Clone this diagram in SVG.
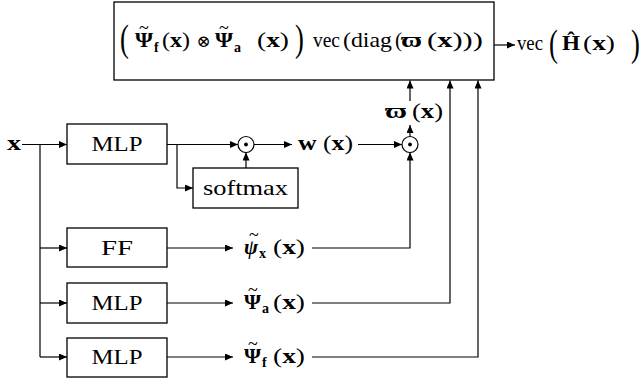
<svg xmlns="http://www.w3.org/2000/svg" width="644" height="384" viewBox="0 0 644 384">
<defs>
<marker id="ah" markerWidth="9" markerHeight="7" refX="8" refY="3.5" orient="auto" markerUnits="userSpaceOnUse">
<path d="M0,0 L8,3.5 L0,7 z" fill="#000"/>
</marker>
<style>
.t{font-family:"Liberation Serif","DejaVu Serif",serif;font-size:21px;fill:#000}
.b{font-weight:bold}
.bi{font-weight:bold;font-style:italic}
.tl{font-size:18px;font-weight:normal;font-style:normal}
.sub{font-family:"Liberation Serif","DejaVu Serif",serif;font-size:14px;font-weight:bold;fill:#000}
.big{font-family:"Liberation Serif","DejaVu Serif",serif;font-size:38px;fill:#000}
.op{font-family:"DejaVu Serif",serif;font-size:17px;fill:#000;text-anchor:middle}
.box{fill:#fff;stroke:#000;stroke-width:1.3}
.c{fill:none;stroke:#000;stroke-width:1.2}
.a{fill:none;stroke:#000;stroke-width:1.2;marker-end:url(#ah)}
.m{text-anchor:middle}
</style>
</defs>
<rect width="644" height="384" fill="#fff"/>

<g id="connectors">
<path class="a" d="M22,144.5 H67"/>
<path class="c" d="M40,144.5 V357"/>
<path class="a" d="M40,248 H67"/>
<path class="a" d="M40,303 H67"/>
<path class="a" d="M40,357 H67"/>
<path class="a" d="M167,144.5 H238"/>
<path class="a" d="M177,144.5 V188 H193"/>
<path class="a" d="M246,168 V152.5"/>
<path class="a" d="M254,144.5 H292"/>
<path class="a" d="M358,144.5 H402"/>
<path class="a" d="M410,136.5 V125"/>
<path class="a" d="M410,101 V80.5"/>
<path class="a" d="M167,248 H233"/>
<path class="a" d="M312,248 H410 V152.5"/>
<path class="a" d="M167,303 H233"/>
<path class="a" d="M312,303 H450 V80.5"/>
<path class="a" d="M167,357 H233"/>
<path class="a" d="M312,357 H478 V80.5"/>
<path class="a" d="M494,45 H515"/>
</g>

<g id="top-box">
<rect class="box" x="114" y="2" width="380" height="78"/>
<text class="big" transform="translate(120,51) scale(0.7,1)">(</text>
<text class="t b" x="135" y="47"><tspan textLength="18" lengthAdjust="spacingAndGlyphs">Ψ</tspan><tspan class="tl" x="139" y="34">~</tspan></text>
<text class="sub" x="154" y="52">f</text>
<text class="t" x="162" y="47" textLength="28" lengthAdjust="spacingAndGlyphs">(<tspan class="b">x</tspan>)</text>
<text class="op" x="203.5" y="47">⊗</text>
<text class="t b" x="215" y="47"><tspan textLength="18" lengthAdjust="spacingAndGlyphs">Ψ</tspan><tspan class="tl" x="219" y="34">~</tspan></text>
<text class="sub" x="234" y="52">a</text>
<text class="t" x="257" y="47" textLength="32" lengthAdjust="spacingAndGlyphs">(<tspan class="b">x</tspan>)</text>
<text class="big" transform="translate(295,51) scale(0.7,1)">)</text>
<text class="t" x="313" y="47" textLength="27" lengthAdjust="spacingAndGlyphs">vec</text>
<text class="t" x="343" y="47" textLength="49" lengthAdjust="spacingAndGlyphs">(diag</text>
<text class="t" x="395" y="47">(</text>
<text class="t b" x="401" y="47" textLength="21" lengthAdjust="spacingAndGlyphs">ϖ</text>
<text class="t" x="427" y="47" textLength="56" lengthAdjust="spacingAndGlyphs">(<tspan class="b">x</tspan>)))</text>
</g>

<g id="output">
<text class="t" x="517" y="50" textLength="26" lengthAdjust="spacingAndGlyphs">vec</text>
<text class="big" transform="translate(549,56) scale(0.7,1)">(</text>
<text class="t b" x="562" y="50" textLength="18" lengthAdjust="spacingAndGlyphs">Ĥ</text>
<text class="t" x="583" y="50" textLength="32" lengthAdjust="spacingAndGlyphs">(<tspan class="b">x</tspan>)</text>
<text class="big" transform="translate(631,56) scale(0.7,1)">)</text>
</g>

<g id="input-x">
<text class="t b" x="7" y="150" textLength="14" lengthAdjust="spacingAndGlyphs">x</text>
</g>

<g id="mlp1">
<rect class="box" x="67" y="124" width="100" height="40"/>
<text class="t m" x="117" y="151" textLength="51" lengthAdjust="spacingAndGlyphs">MLP</text>
</g>

<g id="softmax">
<rect class="box" x="193" y="168" width="105" height="40"/>
<text class="t m" x="245.5" y="195" textLength="85" lengthAdjust="spacingAndGlyphs">softmax</text>
</g>

<g id="hadamard1">
<circle cx="246" cy="144.5" r="8" fill="#fff" stroke="#000" stroke-width="1.2"/>
<circle cx="246" cy="144.5" r="1.9" fill="#000"/>
</g>

<g id="w-label">
<text class="t" x="298" y="150" textLength="55" lengthAdjust="spacingAndGlyphs"><tspan class="b">w</tspan> (<tspan class="b">x</tspan>)</text>
</g>

<g id="hadamard2">
<circle cx="410" cy="144.5" r="8" fill="#fff" stroke="#000" stroke-width="1.2"/>
<circle cx="410" cy="144.5" r="1.9" fill="#000"/>
</g>

<g id="varpi-label">
<text class="t b" x="385" y="118" textLength="22" lengthAdjust="spacingAndGlyphs">ϖ</text>
<text class="t" x="412" y="118" textLength="31" lengthAdjust="spacingAndGlyphs">(<tspan class="b">x</tspan>)</text>
</g>

<g id="ff">
<rect class="box" x="67" y="228" width="100" height="39"/>
<text class="t m" x="117" y="255" textLength="32" lengthAdjust="spacingAndGlyphs">FF</text>
</g>

<g id="mlp2">
<rect class="box" x="67" y="283" width="100" height="40"/>
<text class="t m" x="117" y="310" textLength="51" lengthAdjust="spacingAndGlyphs">MLP</text>
</g>

<g id="mlp3">
<rect class="box" x="67" y="338" width="100" height="39"/>
<text class="t m" x="117" y="364" textLength="51" lengthAdjust="spacingAndGlyphs">MLP</text>
</g>

<g id="psi-x">
<text class="t bi" x="244" y="254">ψ<tspan class="tl" x="249" y="241">~</tspan></text>
<text class="sub" x="259" y="258">x</text>
<text class="t" x="273" y="254" textLength="32" lengthAdjust="spacingAndGlyphs">(<tspan class="b">x</tspan>)</text>
</g>

<g id="psi-a">
<text class="t b" x="244" y="309"><tspan textLength="17" lengthAdjust="spacingAndGlyphs">Ψ</tspan><tspan class="tl" x="248" y="296">~</tspan></text>
<text class="sub" x="262" y="313">a</text>
<text class="t" x="273" y="309" textLength="32" lengthAdjust="spacingAndGlyphs">(<tspan class="b">x</tspan>)</text>
</g>

<g id="psi-f">
<text class="t b" x="244" y="363"><tspan textLength="17" lengthAdjust="spacingAndGlyphs">Ψ</tspan><tspan class="tl" x="248" y="350">~</tspan></text>
<text class="sub" x="262" y="367">f</text>
<text class="t" x="273" y="363" textLength="32" lengthAdjust="spacingAndGlyphs">(<tspan class="b">x</tspan>)</text>
</g>
</svg>
